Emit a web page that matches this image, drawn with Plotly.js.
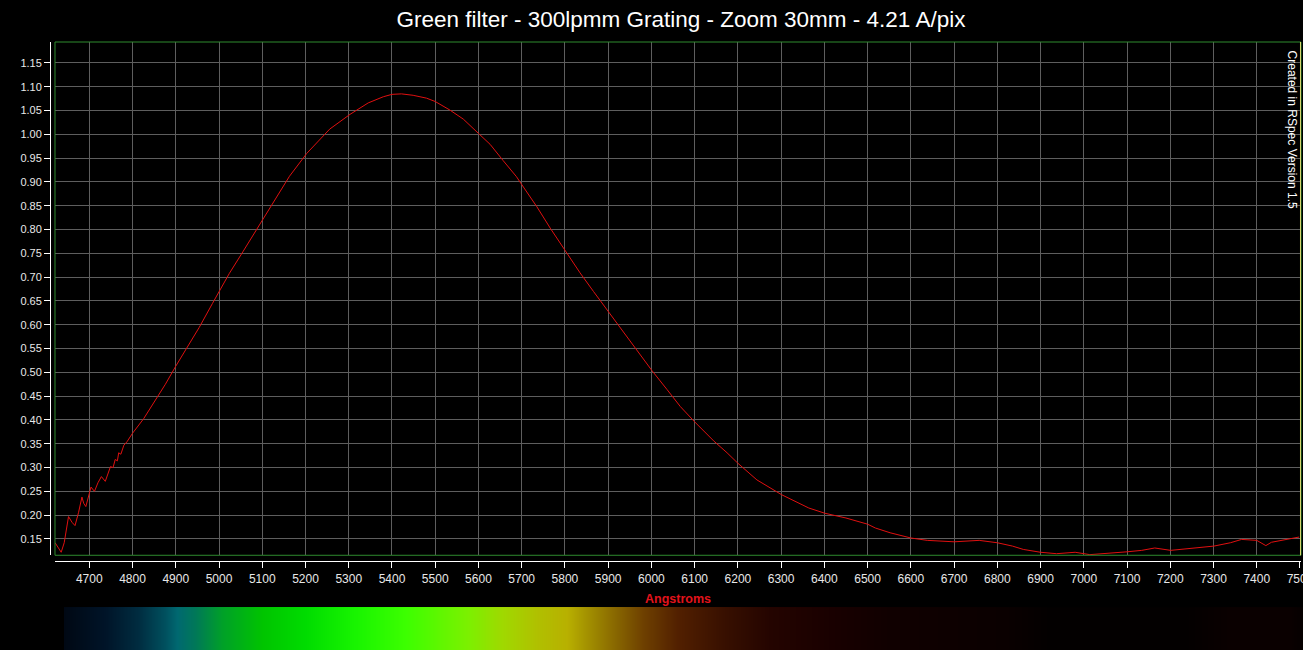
<!DOCTYPE html>
<html>
<head>
<meta charset="utf-8">
<script src="https://cdn.plot.ly/plotly-3.0.1.min.js"></script>
<style>
  html, body { margin: 0; padding: 0; background: #000; }
  #chart { width: 1303px; height: 650px; }
</style>
</head>
<body>
<div id="chart"></div>
<script>
// Measured response (wavelength in Angstroms, relative intensity)
const wavelengths = [
  4621, 4635, 4642, 4652, 4660, 4667, 4675, 4683, 4687, 4692,
  4704, 4712, 4720, 4728, 4737, 4749, 4755, 4760, 4765, 4768,
  4773, 4780, 4787, 4800, 4826, 4853, 4876, 4900, 4931, 4954,
  4985, 5003, 5024, 5055, 5086, 5103, 5132, 5163, 5203, 5241,
  5256, 5303, 5345, 5380, 5400, 5422, 5449, 5480, 5500, 5534,
  5565, 5600, 5627, 5657, 5688, 5699, 5735, 5766, 5799, 5835,
  5866, 5901, 5936, 5966, 6001, 6036, 6067, 6100, 6144, 6175,
  6200, 6244, 6301, 6364, 6401, 6450, 6500, 6518, 6552, 6600,
  6638, 6700, 6758, 6800, 6835, 6860, 6900, 6937, 6980, 7014,
  7049, 7100, 7134, 7164, 7201, 7237, 7271, 7301, 7339, 7365,
  7400, 7421, 7434, 7459, 7498
];
const intensity = [
  0.142, 0.122, 0.142, 0.197, 0.185, 0.178, 0.205, 0.238, 0.225, 0.218,
  0.259, 0.250, 0.268, 0.281, 0.271, 0.302, 0.300, 0.317, 0.314, 0.331,
  0.328, 0.347, 0.354, 0.372, 0.403, 0.441, 0.475, 0.513, 0.558, 0.594,
  0.645, 0.675, 0.708, 0.753, 0.799, 0.823, 0.867, 0.912, 0.960, 0.998,
  1.011, 1.042, 1.066, 1.079, 1.084, 1.085, 1.082, 1.076, 1.069, 1.051,
  1.032, 1.002, 0.979, 0.945, 0.911, 0.896, 0.848, 0.803, 0.757, 0.709,
  0.670, 0.627, 0.583, 0.547, 0.504, 0.464, 0.428, 0.396, 0.356, 0.331,
  0.309, 0.274, 0.243, 0.215, 0.204, 0.194, 0.181, 0.173, 0.163, 0.152,
  0.147, 0.144, 0.147, 0.142, 0.135, 0.128, 0.122, 0.119, 0.122, 0.117,
  0.119, 0.123, 0.126, 0.131, 0.126, 0.129, 0.133, 0.135, 0.142, 0.149,
  0.147, 0.136, 0.143, 0.147, 0.154
];

// Spectrum strip under the axis (position along strip 0..1, colour)
const spectrumPos = [
  0, 0.033, 0.060, 0.0815, 0.091, 0.1057, 0.1273, 0.1596, 0.1945, 0.2349,
  0.2752, 0.3261, 0.3543, 0.3818, 0.406, 0.4245, 0.4431, 0.4673, 0.4948, 0.5319,
  0.5698, 0.6239, 0.6667, 0.7595, 0.7958, 0.9048, 0.9411, 0.9895, 1
];
const spectrumColors = [
  '#000814', '#001428', '#002c40', '#00505e', '#006870', '#007858', '#00a028', '#00c400', '#00dc00', '#18f400',
  '#3cff00', '#7cf000', '#a0d800', '#b0c000', '#b8b000', '#a08c00', '#8a6a00', '#6e4000', '#522000', '#381000',
  '#240400', '#180000', '#100000', '#0a0000', '#030000', '#030000', '#0a0000', '#0a0000', '#050000'
];

const titleText = 'Green filter - 300lpmm Grating - Zoom 30mm - 4.21 A/pix';
const xTitle = 'Angstroms';
const creditText = 'Created in RSpec Version 1.5';

const FONT = '"Liberation Sans", Arial, sans-serif';

const colorscale = spectrumPos.map((p, i) => [p, spectrumColors[i]]);

const traces = [
  {
    type: 'scatter', mode: 'lines',
    x: wavelengths, y: intensity,
    line: { color: '#e01010', width: 1 },
    xaxis: 'x', yaxis: 'y',
    hoverinfo: 'x+y'
  },
  {
    type: 'heatmap',
    x: spectrumPos, y: [0, 1],
    z: [spectrumPos, spectrumPos],
    zmin: 0, zmax: 1,
    colorscale: colorscale,
    zsmooth: 'best',
    showscale: false,
    hoverinfo: 'skip',
    xaxis: 'x2', yaxis: 'y2'
  }
];

const layout = {
  width: 1303, height: 650,
  paper_bgcolor: '#000', plot_bgcolor: '#000',
  margin: { l: 50, r: 0, t: 42, b: 0 },
  showlegend: false,
  font: { family: FONT, color: '#e8e8e8' },
  title: {
    text: titleText,
    font: { family: FONT, size: 22.5, color: '#ffffff' },
    xref: 'container', x: 0.5226, xanchor: 'center',
    yref: 'container', y: 0.971, yanchor: 'middle'
  },
  xaxis: {
    domain: [0.00399, 0.9984],
    range: [4620.7, 7502.3],
    anchor: 'free', position: 0.1459,
    showline: true, linecolor: '#ffffff', linewidth: 1,
    ticks: 'outside', ticklen: 6, tickcolor: '#ffffff', tickwidth: 1,
    tick0: 4700, dtick: 100,
    tickfont: { family: FONT, size: 12, color: '#e8e8e8' },
    ticklabeloverflow: 'allow',
    showgrid: true, gridcolor: '#5e5e5e', gridwidth: 1,
    zeroline: false,
    title: { text: xTitle, standoff: 9, font: { family: FONT, size: 12.5, color: '#e3131b', weight: 'bold' } }
  },
  yaxis: {
    domain: [0.1558, 1],
    range: [0.1157, 1.194],
    anchor: 'free', position: 0,
    showline: true, linecolor: '#ffffff', linewidth: 1,
    ticks: 'outside', ticklen: 6, tickcolor: '#ffffff', tickwidth: 1,
    tick0: 0.15, dtick: 0.05, tickformat: '.2f',
    tickfont: { family: FONT, size: 11, color: '#e8e8e8' },
    showgrid: true, gridcolor: '#5e5e5e', gridwidth: 1,
    zeroline: false
  },
  xaxis2: {
    domain: [0.01117, 1], range: [0, 1], anchor: 'y2',
    visible: false, fixedrange: true
  },
  yaxis2: {
    domain: [0, 0.0707], range: [0, 1], anchor: 'x2',
    visible: false, fixedrange: true
  },
  shapes: [
    {
      type: 'rect', xref: 'x domain', yref: 'y domain',
      x0: 0, x1: 1, y0: 0, y1: 1,
      line: { color: '#2e8b2e', width: 1 }, layer: 'above'
    },
    {
      type: 'line', xref: 'x domain', yref: 'y domain',
      x0: 0.9996, x1: 0.9996, y0: 0, y1: 1,
      line: { color: '#d8d870', width: 1 }, layer: 'above'
    }
  ],
  annotations: [
    {
      text: creditText, textangle: 90,
      xref: 'paper', yref: 'paper', x: 0.9912, y: 0.856,
      xanchor: 'center', yanchor: 'middle', showarrow: false,
      font: { family: FONT, size: 12, color: '#ffffff' }
    }
  ]
};

Plotly.newPlot('chart', traces, layout, { displayModeBar: false, staticPlot: true });
</script>
</body>
</html>
